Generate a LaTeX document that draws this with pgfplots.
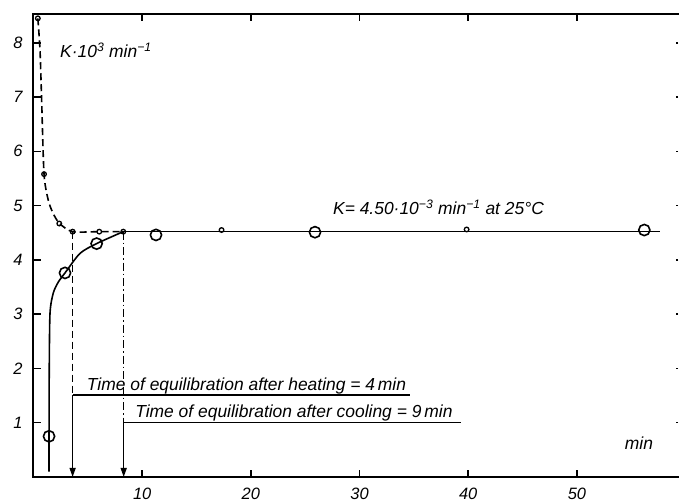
\documentclass[border=0pt]{standalone}
\usepackage{fontspec}
\setmainfont{Liberation Sans}
\usepackage{pgfplots}
\pgfplotsset{compat=1.18}
\usetikzlibrary{arrows.meta}

\begin{document}
\fontsize{17.5}{20}\selectfont\itshape
\begin{tikzpicture}
\begin{axis}[
  scale only axis,
  width=644.5bp, height=463bp,
  xmin=0, xmax=59.3, ymin=0, ymax=8.53,
  axis line style={draw=none},
  xtick={10,20,30,40,50},
  ytick={1,2,3,4,5,6,7,8},
  xtick pos=both, ytick pos=left,
  tick align=inside,
  major tick length=7bp,
  tick style={line width=1.5bp, black},
  /pgf/number format/assume math mode=true,
  ticklabel style={font=\fontsize{16.5}{19}\selectfont\itshape},
  xticklabel style={yshift=-5bp},
  yticklabel style={xshift=-5bp},
  clip=false,
]
\coordinate (bl) at (rel axis cs:0,0);
\coordinate (tr) at (rel axis cs:1,1);
% frame: left, bottom, top (no right spine)
\draw[line width=2bp] (rel axis cs:1.003,1) -- (rel axis cs:0,1) -- (rel axis cs:0,0) -- (rel axis cs:1.003,0);
\pgfplotsinvokeforeach{1,...,8}{\draw[line width=1.5bp] (axis cs:59.3,#1) -- ++(-2.5bp,0);}

% heating curve (dashed)
\addplot[black, line width=1.6bp, dash pattern=on 7bp off 4bp, smooth, tension=0.45] coordinates {
  (0.4,8.45)(0.6,7.86)(0.75,6.94)(0.97,5.58)(1.36,5.1)(1.8,4.86)(2.4,4.67)(3.6,4.52)(6.05,4.52)(8.26,4.52)};
% cooling curve (solid)
\addplot[black, line width=1.6bp, smooth, tension=0.45] coordinates {
  (1.43,0.1)(1.43,0.75)(1.45,2.0)(1.52,3.02)(1.82,3.39)(2.28,3.59)(2.9,3.76)(4.28,4.12)(5.81,4.30)(8.26,4.52)};
\addplot[black, line width=1.6bp] coordinates {(8.26,4.52)(57.6,4.52)};

% small circles
\addplot[only marks, mark=o, mark size=2.3bp, line width=1.3bp, mark options={fill=white}] coordinates {
  (0.4,8.45)(0.97,5.58)(2.37,4.67)(3.6,4.52)(6.05,4.52)(8.26,4.52)(17.3,4.55)(39.85,4.56)};
% large circles
\addplot[only marks, mark=o, mark size=5.6bp, line width=1.6bp, mark options={fill=white}] coordinates {
  (1.43,0.75)(2.9,3.76)(5.81,4.30)(11.27,4.46)(25.9,4.51)(56.2,4.55)};

% equilibration markers
\draw[line width=1.3bp, dash pattern=on 7bp off 4bp] (axis cs:3.6,4.52) -- (axis cs:3.6,1.51);
\draw[line width=1.4bp, -{Triangle[length=9bp,width=6bp]}] (axis cs:3.6,1.51) -- (axis cs:3.6,0);
\draw[line width=1.4bp] (axis cs:3.6,1.51) -- (axis cs:34.6,1.51);
\draw[line width=1.3bp, dash pattern=on 8bp off 3bp on 1.5bp off 3bp] (axis cs:8.3,4.52) -- (axis cs:8.3,1.0);
\draw[line width=1.4bp, -{Triangle[length=9bp,width=6bp]}] (axis cs:8.3,1.0) -- (axis cs:8.3,0);
\draw[line width=1.4bp] (axis cs:8.3,1.0) -- (axis cs:39.3,1.0);

\node[anchor=base west, inner sep=0, yshift=5bp] at (axis cs:4.9,1.51) {Time of equilibration after heating = 4\,min};
\node[anchor=base west, inner sep=0, yshift=5bp] at (axis cs:9.35,1.0) {Time of equilibration after cooling = 9\,min};
\node[anchor=base west, inner sep=0] at (axis cs:2.44,7.72) {K·10\textsuperscript{3} min\textsuperscript{−1}};
\node[anchor=base west, inner sep=0] at (axis cs:27.55,4.83) {K= 4.50·10\textsuperscript{−3} min\textsuperscript{−1} at 25°C};
\node[anchor=base west, inner sep=0] at (axis cs:54.4,0.5) {min};
\end{axis}
\pgfresetboundingbox
\path[use as bounding box] ([shift={(-33.5bp,-26.5bp)}]bl) rectangle ([shift={(1bp,14bp)}]tr);
\end{tikzpicture}
\end{document}
